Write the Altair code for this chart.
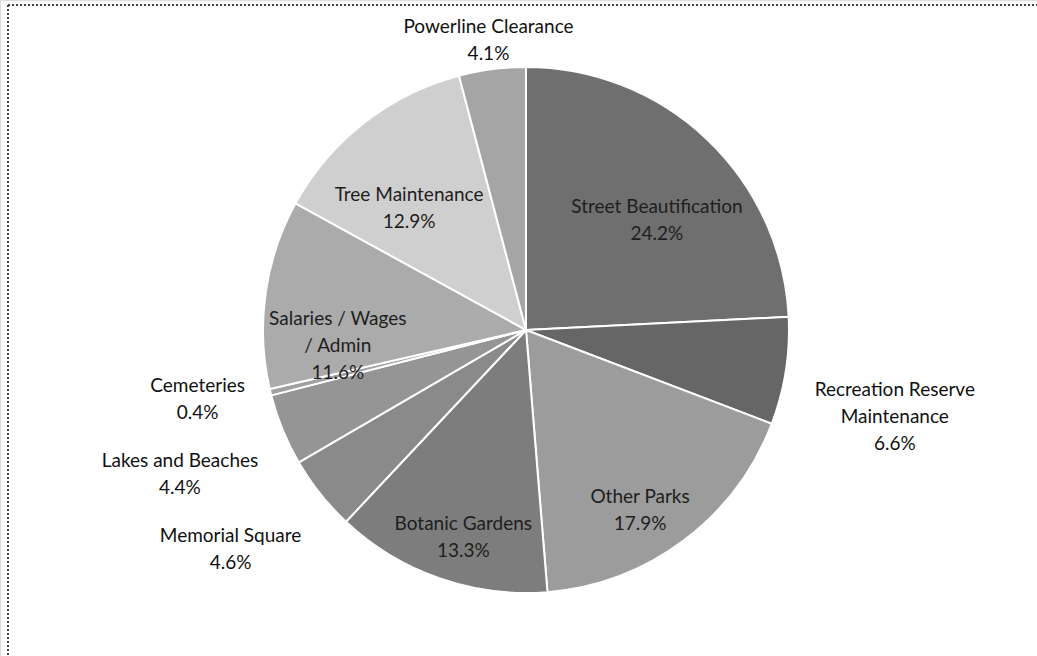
import math
import altair as alt
import pandas as pd

# ---- data ----
categories = [
    "Street Beautification",
    "Recreation Reserve Maintenance",
    "Other Parks",
    "Botanic Gardens",
    "Memorial Square",
    "Lakes and Beaches",
    "Cemeteries",
    "Salaries / Wages / Admin",
    "Tree Maintenance",
    "Powerline Clearance",
]
shares = [24.2, 6.6, 17.9, 13.3, 4.6, 4.4, 0.4, 11.6, 12.9, 4.1]
wrapped_names = [
    "Street Beautification",
    "Recreation Reserve\nMaintenance",
    "Other Parks",
    "Botanic Gardens",
    "Memorial Square",
    "Lakes and Beaches",
    "Cemeteries",
    "Salaries / Wages\n/ Admin",
    "Tree Maintenance",
    "Powerline Clearance",
]
inside = [True, False, True, True, False, False, False, True, True, False]
grays = ["#6f6f6f", "#666666", "#9c9c9c", "#7d7d7d", "#8a8a8a",
         "#959595", "#a0a0a0", "#ababab", "#cfcfcf", "#a5a5a5"]

# ---- layout constants ----
CX, CY, R = 526, 330, 263
FS, LH = 19, 27
R_IN, R_OUT = 190, 292
MIN_GAP = 75

df = pd.DataFrame({
    "category": categories,
    "share": shares,
    "order": list(range(len(categories))),
    "label": [f"{n}\n{v}%" for n, v in zip(wrapped_names, shares)],
    "inside": inside,
})

# place outside labels (Excel-like: beside the slice, pushed apart when crowded)
mid = (df["share"].cumsum() - df["share"] / 2) / df["share"].sum() * 2 * math.pi
lx, ly = [], []
for lab, a, ins in zip(df["label"], mid, df["inside"]):
    lines = lab.split("\n")
    w = max(len(s) for s in lines) * 0.47 * FS
    ax = CX + math.sin(a) * R_OUT
    ay = CY - math.cos(a) * R_OUT
    s = math.sin(a)
    if s > 0.3:
        x, y = ax + w / 2, ay + (len(lines) - 1) * LH / 2
    elif s < -0.3:
        x, y = ax - w / 2, ay
    else:
        x, y = ax, ay
    lx.append(x)
    ly.append(y)
df["lx"], df["ly"] = lx, ly
df["left"] = [(math.sin(a) < -0.3) and not ins for a, ins in zip(mid, df["inside"])]
left_idx = df[df["left"]].sort_values("ly").index.tolist()
prev = None
for i in left_idx:
    if prev is not None and df.at[i, "ly"] < prev + MIN_GAP:
        df.at[i, "ly"] = prev + MIN_GAP
    prev = df.at[i, "ly"]

color = alt.Color("category:N", scale=alt.Scale(domain=categories, range=grays), legend=None)
theta = alt.Theta("share:Q", stack=True)
order = alt.Order("order:Q")

base = alt.Chart(df).encode(theta=theta, order=order,
                            x=alt.value(CX), y=alt.value(CY))

pie = base.mark_arc(stroke="white", strokeWidth=2).encode(
    color=color, radius=alt.value(R))

text_props = dict(font="Lato", fontSize=FS, lineBreak="\n", lineHeight=LH,
                  baseline="middle", align="center")

inner = base.mark_text(color="#1e1e1e", dy=15, **text_props).encode(
    text=alt.condition("datum.inside", alt.Text("label:N"), alt.value("")),
    radius=alt.value(R_IN),
)

outer = alt.Chart(df).transform_filter("!datum.inside").mark_text(
    color="#111111", dy=-13, **text_props
).encode(
    x=alt.X("lx:Q", scale=None),
    y=alt.Y("ly:Q", scale=None),
    text="label:N",
)

frame_top = alt.Chart(df).mark_rule(color="#444444", strokeDash=[2, 2], strokeWidth=1.5).encode(
    x=alt.value(8), x2=alt.value(1037), y=alt.value(5))
frame_left = alt.Chart(df).mark_rule(color="#444444", strokeDash=[2, 2], strokeWidth=1.5).encode(
    x=alt.value(8), y=alt.value(5), y2=alt.value(656))

chart = alt.layer(pie, inner, outer, frame_top, frame_left).properties(
    width=1037, height=656, padding=0, autosize=alt.AutoSizeParams(type="none")
).configure_view(stroke=None).configure(background="white")

chart.save("out.html", embed_options={"renderer": "svg", "actions": False})
